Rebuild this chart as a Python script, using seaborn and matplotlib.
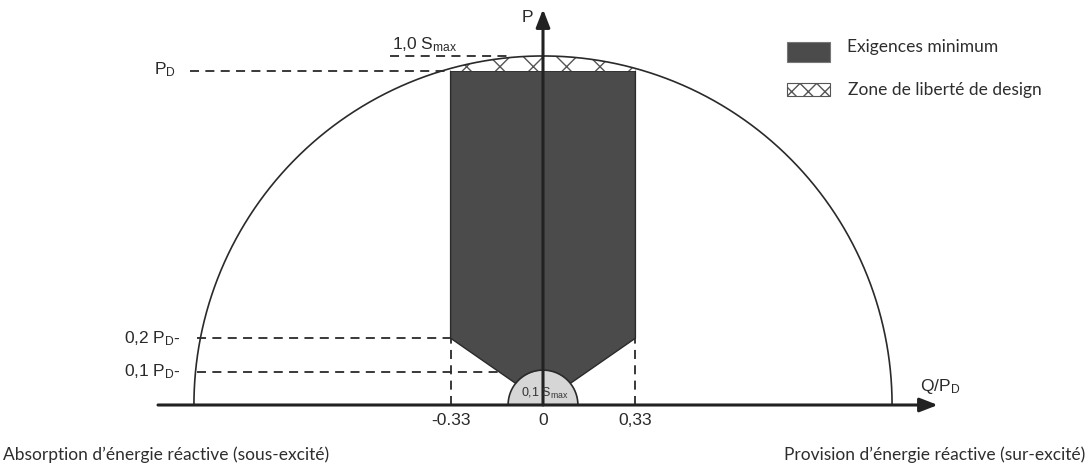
import numpy as np
import matplotlib
matplotlib.use("Agg")
import matplotlib.pyplot as plt
import seaborn as sns
from matplotlib.patches import Polygon, Rectangle

# values of the diagram (Q/P_D horizontally, P/P_D vertically)
q_limits = [-0.33, 0.33]
p_levels = [0.1, 0.2, 1.0]
s_max = 1.045                  # radius of the S_max circle, in P_D
s_min_ratio = 0.1              # small circle = 0.1 S_max
q_stretch = 1.193              # schematic horizontal scale of the circle
tick_q = [-0.33, 0, 0.33]
tick_labels = ["-0.33", "0", "0,33"]
# outline of the minimum requirement zone
zone_q = [-0.33, -0.33, -0.05, 0.05, 0.33, 0.33]
zone_p = [1.0, 0.2, 0.037, 0.037, 0.2, 1.0]

sns.set_theme(style="white")
plt.rcParams["font.family"] = ["Liberation Sans", "DejaVu Sans"]
plt.rcParams["mathtext.fontset"] = "custom"
plt.rcParams["mathtext.rm"] = "Liberation Sans"
plt.rcParams["mathtext.it"] = "Liberation Sans"
plt.rcParams["hatch.linewidth"] = 1.0

dark = "#4b4b4b"
line = "#2a2a2a"

fig = plt.figure(figsize=(10.9, 4.69), dpi=100)
ax = fig.add_axes([0, 0, 1, 1])
ax.set_xlim(-543 / 280, 547 / 280)
ax.set_ylim(-64 / 334, 405 / 334)
ax.axis("off")

# big S_max half circle
t = np.linspace(0, np.pi, 500)
sns.lineplot(x=s_max * q_stretch * np.cos(t), y=s_max * np.sin(t), sort=False,
             color=line, lw=1.2, ax=ax, zorder=3)

# minimum requirement zone
ax.add_patch(Polygon(np.column_stack([zone_q, zone_p]), closed=True,
                     facecolor=dark, edgecolor=line, lw=1.0, zorder=2))

# design freedom zone (between P_D and the circle)
qq = np.linspace(q_limits[0], q_limits[1], 200)
top = s_max * np.sqrt(1 - (qq / (s_max * q_stretch)) ** 2)
ax.fill_between(qq, p_levels[2], top, facecolor="white", edgecolor="#555555",
                hatch="x", lw=0, zorder=2)

# small 0.1 S_max half circle
r = s_min_ratio * s_max
ax.fill_between(r * q_stretch * np.cos(t), 0, r * np.sin(t), color="#d6d6d6",
                lw=0, zorder=4)
sns.lineplot(x=r * q_stretch * np.cos(t), y=r * np.sin(t), sort=False,
             color=line, lw=1.2, ax=ax, zorder=5)
ax.text(0.005, 0.036, "0,1 S$_\\mathrm{max}$", fontsize=9, ha="center",
        va="center", color="#333333", zorder=7)

# dashed guide lines
dash = dict(color=line, lw=1.3, ls=(0, (5, 3.5)), zorder=1)
ax.plot([-1.26, q_limits[0]], [p_levels[2]] * 2, **dash)
ax.plot([-0.545, -0.12], [s_max] * 2, **dash)
ax.plot([-1.235, q_limits[0]], [p_levels[1]] * 2, **dash)
ax.plot([-1.235, -0.16], [p_levels[0]] * 2, **dash)
for q in q_limits:
    ax.plot([q, q], [0, p_levels[1]], **dash)

# axes with arrows
arrow = dict(arrowstyle="-|>,head_length=0.9,head_width=0.35", lw=2.2,
             color="#222222", shrinkA=0, shrinkB=0)
ax.annotate("", xy=(1.41, 0), xytext=(-1.375, 0), arrowprops=arrow, zorder=6)
ax.annotate("", xy=(0, 1.185), xytext=(0, 0), arrowprops=arrow, zorder=6)

# labels
fs = 12.5
ax.text(-0.057, 1.16, "P", fontsize=fs, ha="center", va="center", color=line)
ax.text(1.345, 0.055, "Q/P$_\\mathrm{D}$", fontsize=fs, ha="left", va="center", color=line)
ax.text(-1.39, p_levels[2] + 0.005, "P$_\\mathrm{D}$", fontsize=fs, ha="left",
        va="center", color=line)
ax.text(-0.54, s_max + 0.035, "1,0 S$_\\mathrm{max}$", fontsize=fs, ha="left",
        va="center", color=line)
ax.text(-1.495, p_levels[1], "0,2 P$_\\mathrm{D}$-", fontsize=fs, ha="left",
        va="center", color=line)
ax.text(-1.495, p_levels[0], "0,1 P$_\\mathrm{D}$-", fontsize=fs, ha="left",
        va="center", color=line)
for q, lab in zip(tick_q, tick_labels):
    ax.text(q, -0.045, lab, fontsize=fs, ha="center", va="center", color=line)

# legend
fig.patches.append(Rectangle((787 / 1090, 1 - 62 / 469), 43 / 1090, 20 / 469,
                             transform=fig.transFigure, facecolor=dark,
                             edgecolor="#777777", lw=0.8))
fig.patches.append(Rectangle((787 / 1090, 1 - 96 / 469), 43 / 1090, 13 / 469,
                             transform=fig.transFigure, facecolor="white",
                             edgecolor="#555555", hatch="xx", lw=0.8))
body = ["Lato", "DejaVu Sans"]
fig.text(847 / 1090, 1 - 47 / 469, "Exigences minimum", fontsize=12.5,
         family=body, color="#2e2e2e", va="center")
fig.text(848 / 1090, 1 - 90 / 469, "Zone de liberté de design", fontsize=12.5,
         family=body, color="#2e2e2e", va="center")
fig.text(3 / 1090, 1 - 455 / 469, "Absorption d’énergie réactive (sous-excité)",
         fontsize=12.5, family=body, color="#2e2e2e", va="center")
fig.text(1085 / 1090, 1 - 455 / 469, "Provision d’énergie réactive (sur-excité)",
         fontsize=12.5, family=body, color="#2e2e2e", va="center", ha="right")

fig.savefig("out.png", dpi=100, facecolor="white")
